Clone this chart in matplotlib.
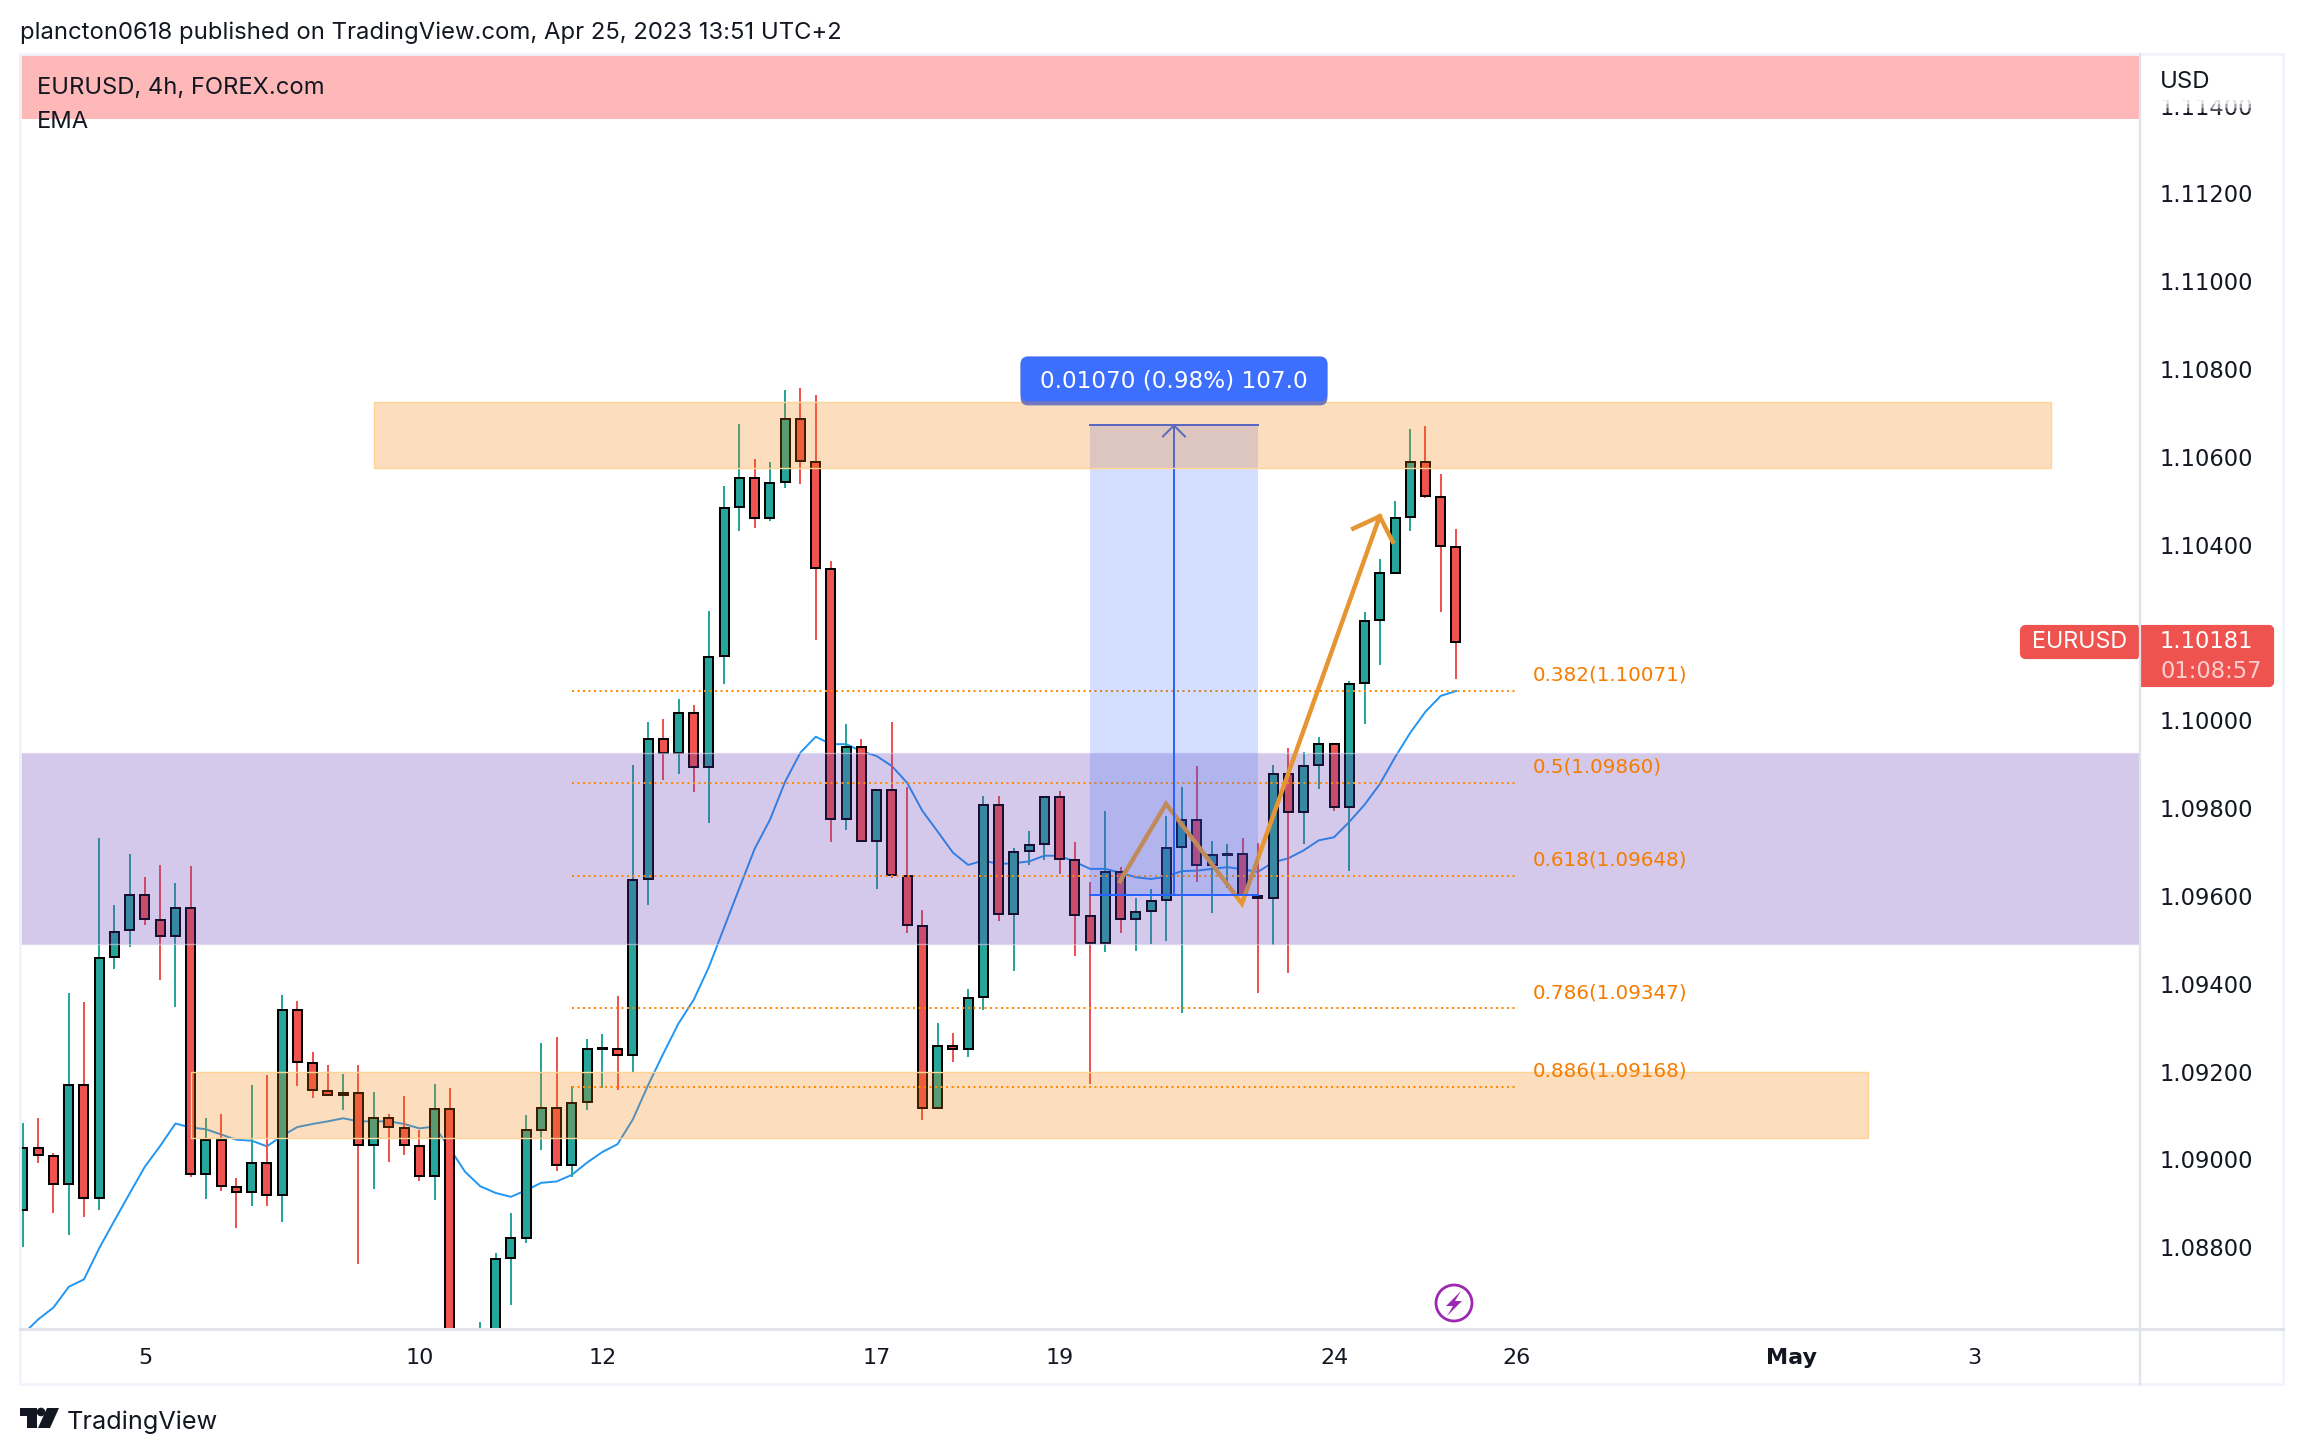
import matplotlib
matplotlib.use('Agg')
import matplotlib.pyplot as plt
from matplotlib.colors import to_rgba
from matplotlib.patches import Rectangle, Circle, Polygon, FancyBboxPatch
from matplotlib.transforms import ScaledTranslation

plt.rcParams['font.family'] = ['Inter', 'DejaVu Sans']
NUM_FONT = 'DejaVu Sans'  # closest match for the wide tabular digits of the chart

# 4h candles, first visible bar is Apr 3
opens = [1.08888, 1.09029, 1.09011, 1.08947, 1.09173, 1.08915, 1.09465, 1.09525, 1.09606, 1.09548,
         1.09511, 1.09576, 1.08970, 1.09047, 1.08941, 1.08929, 1.08995, 1.08922, 1.09344, 1.09223,
         1.09159, 1.09151, 1.09154, 1.09036, 1.09097, 1.09074, 1.09034, 1.08965, 1.09119, 1.08545,
         1.08520, 1.08590, 1.08778, 1.08825, 1.09071, 1.09121, 1.08990, 1.09133, 1.09254, 1.09255,
         1.09241, 1.09641, 1.09961, 1.09928, 1.10020, 1.09898, 1.10149, 1.10489, 1.10556, 1.10464,
         1.10546, 1.10690, 1.10592, 1.10348, 1.09778, 1.09943, 1.09728, 1.09844, 1.09649, 1.09535,
         1.09120, 1.09261, 1.09255, 1.09373, 1.09811, 1.09562, 1.09705, 1.09721, 1.09829, 1.09685,
         1.09557, 1.09496, 1.09658, 1.09551, 1.09569, 1.09594, 1.09715, 1.09776, 1.09674, 1.09697,
         1.09699, 1.09604, 1.09598, 1.09881, 1.09794, 1.09901, 1.09949, 1.09805, 1.10088, 1.10231,
         1.10340, 1.10466, 1.10591, 1.10512, 1.10398]
highs = [1.09086, 1.09097, 1.09017, 1.09382, 1.09361, 1.09735, 1.09582, 1.09699, 1.09646, 1.09674,
         1.09633, 1.09672, 1.09097, 1.09106, 1.08962, 1.09172, 1.09195, 1.09377, 1.09364, 1.09248,
         1.09218, 1.09198, 1.09218, 1.09156, 1.09106, 1.09148, 1.09070, 1.09175, 1.09167, 1.08600,
         1.08633, 1.08789, 1.08881, 1.09104, 1.09268, 1.09282, 1.09170, 1.09277, 1.09289, 1.09375,
         1.09901, 1.09999, 1.10006, 1.10051, 1.10038, 1.10252, 1.10537, 1.10678, 1.10598, 1.10591,
         1.10756, 1.10760, 1.10744, 1.10366, 1.09995, 1.09961, 1.09848, 1.09999, 1.09851, 1.09571,
         1.09314, 1.09291, 1.09391, 1.09831, 1.09831, 1.09712, 1.09751, 1.09829, 1.09842, 1.09726,
         1.09635, 1.09797, 1.09669, 1.09598, 1.09619, 1.09785, 1.09851, 1.09899, 1.09728, 1.09721,
         1.09735, 1.09724, 1.09901, 1.09940, 1.09931, 1.09965, 1.09949, 1.10094, 1.10250, 1.10371,
         1.10503, 1.10667, 1.10674, 1.10565, 1.10440]
lows = [1.08803, 1.08994, 1.08881, 1.08831, 1.08873, 1.08889, 1.09437, 1.09486, 1.09537, 1.09412,
        1.09351, 1.08963, 1.08913, 1.08932, 1.08847, 1.08897, 1.08897, 1.08861, 1.09171, 1.09144,
        1.09151, 1.09116, 1.08765, 1.08936, 1.08998, 1.09013, 1.08955, 1.08911, 1.08520, 1.08490,
        1.08490, 1.08560, 1.08671, 1.08813, 1.09024, 1.08976, 1.08964, 1.09115, 1.09166, 1.09161,
        1.09200, 1.09583, 1.09867, 1.09881, 1.09840, 1.09769, 1.10086, 1.10435, 1.10441, 1.10457,
        1.10532, 1.10541, 1.10186, 1.09726, 1.09753, 1.09728, 1.09619, 1.09645, 1.09519, 1.09094,
        1.09120, 1.09225, 1.09237, 1.09343, 1.09546, 1.09432, 1.09674, 1.09685, 1.09653, 1.09466,
        1.09175, 1.09475, 1.09519, 1.09478, 1.09494, 1.09500, 1.09337, 1.09635, 1.09564, 1.09621,
        1.09586, 1.09382, 1.09491, 1.09428, 1.09721, 1.09847, 1.09797, 1.09660, 1.09994, 1.10129,
        1.10338, 1.10435, 1.10509, 1.10249, 1.10098]
closes = [1.09029, 1.09013, 1.08947, 1.09173, 1.08915, 1.09462, 1.09522, 1.09606, 1.09551, 1.09511,
          1.09576, 1.08970, 1.09047, 1.08943, 1.08929, 1.08995, 1.08922, 1.09344, 1.09225, 1.09162,
          1.09151, 1.09155, 1.09036, 1.09097, 1.09077, 1.09036, 1.08965, 1.09119, 1.08540, 1.08510,
          1.08590, 1.08777, 1.08825, 1.09071, 1.09121, 1.08990, 1.09132, 1.09255, 1.09258, 1.09241,
          1.09640, 1.09961, 1.09928, 1.10020, 1.09898, 1.10148, 1.10488, 1.10556, 1.10465, 1.10544,
          1.10690, 1.10593, 1.10350, 1.09778, 1.09943, 1.09728, 1.09844, 1.09650, 1.09537, 1.09120,
          1.09261, 1.09255, 1.09371, 1.09811, 1.09562, 1.09704, 1.09720, 1.09829, 1.09687, 1.09560,
          1.09496, 1.09658, 1.09551, 1.09567, 1.09592, 1.09712, 1.09776, 1.09674, 1.09696, 1.09700,
          1.09605, 1.09598, 1.09881, 1.09794, 1.09899, 1.09949, 1.09806, 1.10086, 1.10229, 1.10339,
          1.10464, 1.10591, 1.10514, 1.10400, 1.10181]
ema = [1.08605, 1.08639, 1.08666, 1.08713, 1.08730, 1.08801, 1.08864, 1.08926, 1.08987, 1.09034,
       1.09085, 1.09076, 1.09072, 1.09060, 1.09048, 1.09046, 1.09033, 1.09057, 1.09077, 1.09084,
       1.09090, 1.09097, 1.09090, 1.09090, 1.09090, 1.09084, 1.09074, 1.09078, 1.09028, 1.08975,
       1.08942, 1.08927, 1.08918, 1.08933, 1.08950, 1.08953, 1.08968, 1.08996, 1.09020, 1.09038,
       1.09094, 1.09172, 1.09244, 1.09313, 1.09367, 1.09442, 1.09532, 1.09622, 1.09711, 1.09777,
       1.09864, 1.09930, 1.09966, 1.09949, 1.09949, 1.09933, 1.09922, 1.09899, 1.09861, 1.09797,
       1.09750, 1.09702, 1.09674, 1.09684, 1.09676, 1.09678, 1.09682, 1.09695, 1.09695, 1.09681,
       1.09665, 1.09665, 1.09656, 1.09646, 1.09642, 1.09647, 1.09660, 1.09661, 1.09665, 1.09669,
       1.09664, 1.09658, 1.09680, 1.09689, 1.09707, 1.09730, 1.09737, 1.09772, 1.09811, 1.09858,
       1.09919, 1.09975, 1.10023, 1.10059, 1.10070]

# axis labels, 1.102 sits behind the last price label
price_ticks = [1.088, 1.090, 1.092, 1.094, 1.096, 1.098, 1.100, 1.104, 1.106, 1.108, 1.110, 1.112, 1.114]
date_bars = [8, 26, 38, 56, 68, 86, 98, 116, 128]
date_labels = ['5', '10', '12', '17', '19', '24', '26', 'May', '3']

# fib retracement
fib_ratios = ['0.382', '0.5', '0.618', '0.786', '0.886']
fib_prices = [1.10071, 1.09860, 1.09648, 1.09347, 1.09168]
fib_bars = [36, 98]

# drawn zones: (first bar, last bar, bottom, top)
upper_zone = (23, 133, 1.10578, 1.10728)
lower_zone = (11, 121, 1.09052, 1.09202)
purple_zone = (1.09495, 1.09930)
red_zone_bottom = 1.11374

# price range measure
measure_bars = [70, 81]
measure_prices = [1.09605, 1.10675]

# hand drawn path with arrow head
path_bars = [71.96, 74.98, 79.96, 89.0]
path_prices = [1.09637, 1.09813, 1.09586, 1.10468]
head_bars = [87.26, 89.0, 89.85]
head_prices = [1.10440, 1.10468, 1.10410]

GREEN = '#26A69A'
RED = '#EF5350'
TEXT = '#131722'
ORANGE_TEXT = '#F57C00'
W, H = 2304, 1454

fig = plt.figure(figsize=(W / 100, H / 100), dpi=100, facecolor='white')
ax = fig.add_axes([19 / W, (H - 1329) / H, 2121 / W, 1275 / H])
ax.set_xlim(-0.262, 138.87)
ax.set_ylim(1.08617, 1.11521)
for spine in ax.spines.values():
    spine.set_visible(False)

ax.yaxis.tick_right()
ax.set_yticks(price_ticks)
ax.set_yticklabels([f'{p:.5f}' for p in price_ticks], fontsize=16.3, color=TEXT, family=NUM_FONT)
ax.set_xticks(date_bars)
ax.set_xticklabels(date_labels, fontsize=16, color=TEXT, family=NUM_FONT)
ax.get_xticklabels()[date_labels.index('May')].set_fontweight('bold')
ax.tick_params(axis='y', length=0, pad=13.8)
ax.tick_params(axis='x', length=0, pad=14)
# nudge price labels up a little
for label in ax.get_yticklabels():
    label.set_transform(label.get_transform() + ScaledTranslation(0, 1.5 / 100, fig.dpi_scale_trans))

# candles
bars = list(range(len(closes)))
colors = [GREEN if c >= o else RED for o, c in zip(opens, closes)]
ax.plot(bars, ema, color='#2196F3', lw=1.4, zorder=2)
ax.vlines(bars, lows, highs, colors=colors, lw=1.44, zorder=3)
ax.bar(bars, [abs(c - o) for o, c in zip(opens, closes)], bottom=[min(o, c) for o, c in zip(opens, closes)],
       width=9 / 15.245, color=colors, edgecolor='black', linewidth=1.44, zorder=4)


def add_zone(x0, x1, y0, y1, color, alpha, edge, zorder):
    ax.add_patch(Rectangle((x0, y0), x1 - x0, y1 - y0, facecolor=to_rgba(color, alpha),
                           edgecolor=edge, linewidth=1.0, zorder=zorder))


xmin, xmax = ax.get_xlim()
ymin, ymax = ax.get_ylim()
add_zone(xmin - 1, xmax + 1, purple_zone[0], purple_zone[1], '#673AB7', 0.27, to_rgba('#D8D0EC', 0.6), 5)
add_zone(lower_zone[0], lower_zone[1], lower_zone[2], lower_zone[3], '#F57C00', 0.25, '#FFD596', 5)
add_zone(upper_zone[0], upper_zone[1], upper_zone[2], upper_zone[3], '#F57C00', 0.25, '#FFD596', 10)
ax.add_patch(Rectangle((xmin - 1, red_zone_bottom), xmax - xmin + 2, ymax - red_zone_bottom + 1,
                       facecolor='#FFB8B8', edgecolor='none', zorder=5))

# fib levels
for ratio, price in zip(fib_ratios, fib_prices):
    ax.plot(fib_bars, [price, price], color='#FF8A00', lw=1.44, linestyle=(0, (1, 1.75)),
            dash_capstyle='butt', zorder=6)
    ax.annotate(f'{ratio}({price:.5f})', (fib_bars[1], price), xytext=(11.3, 11.5), textcoords='offset points',
                fontsize=14.3, color=ORANGE_TEXT, va='center', ha='left', zorder=11, family=NUM_FONT)

# path sits under the measure box
ax.plot(path_bars, path_prices, color='#E69533', lw=3.2, solid_joinstyle='miter', zorder=7)
ax.plot(head_bars, head_prices, color='#E69533', lw=3.2, solid_joinstyle='miter', zorder=7)

# measure box
mx0, mx1 = measure_bars
my0, my1 = measure_prices
mid = (mx0 + mx1) / 2
ax.add_patch(Rectangle((mx0, my0), mx1 - mx0, my1 - my0, facecolor=to_rgba('#2962FF', 0.2), edgecolor='none', zorder=8))
ax.plot([mx0, mx1], [my0, my0], color='#2962FF', lw=1.44, zorder=9)
ax.plot([mx0, mx1], [my1, my1], color='#2962FF', lw=1.44, zorder=9)
ax.plot([mid, mid], [my0, my1], color='#2962FF', lw=1.44, zorder=9)
ax.plot([mid - 0.72, mid, mid + 0.72], [my1 - 0.00025, my1, my1 - 0.00025], color='#2962FF', lw=1.44, zorder=9)

# everything around the pane, in pixels
chrome = fig.add_axes([0, 0, 1, 1], zorder=20)
chrome.set_xlim(0, W)
chrome.set_ylim(H, 0)
chrome.axis('off')
chrome.add_patch(Rectangle((20, 54), 2263, 1330, facecolor='none', edgecolor='#F0F3FA', linewidth=2))
chrome.plot([2140, 2140], [54, 1384], color='#E0E3EB', lw=1.6)
chrome.plot([20, 2283], [1329, 1329], color='#E0E3EB', lw=2.2)

chrome.text(20, 33, 'plancton0618 published on TradingView.com, Apr 25, 2023 13:51 UTC+2',
            fontsize=17.2, color=TEXT, va='center')
chrome.text(37, 87.5, 'EURUSD, 4h, FOREX.com', fontsize=17.1, color=TEXT, va='center')
chrome.text(37, 121.5, 'EMA', fontsize=17.1, color=TEXT, va='center')

# top of the price scale fades out under the currency label
chrome.add_patch(Rectangle((2143, 56), 138, 44, facecolor='white', edgecolor='none'))
chrome.add_patch(Rectangle((2143, 100), 138, 4, facecolor=to_rgba('white', 0.85), edgecolor='none'))
chrome.add_patch(Rectangle((2143, 104), 138, 4, facecolor=to_rgba('white', 0.6), edgecolor='none'))
chrome.add_patch(Rectangle((2143, 108), 138, 4, facecolor=to_rgba('white', 0.25), edgecolor='none'))
chrome.text(2160, 82, 'USD', fontsize=17.2, color=TEXT, va='center')

# last price labels
chrome.add_patch(FancyBboxPatch((2022, 627), 116, 30, boxstyle='round,pad=0,rounding_size=4', facecolor=RED,
                                edgecolor=RED, linewidth=3))
chrome.add_patch(FancyBboxPatch((2142, 627), 130, 58, boxstyle='round,pad=0,rounding_size=3', facecolor=RED,
                                edgecolor=RED, linewidth=3))
chrome.add_patch(Rectangle((2133, 625), 5, 34, facecolor=RED, edgecolor='none'))
chrome.add_patch(Rectangle((2140, 625), 8, 62, facecolor=RED, edgecolor='none'))
chrome.text(2080, 642, 'EURUSD', fontsize=16.8, color='white', va='center', ha='center')
chrome.text(2160, 642, '1.10181', fontsize=16.3, color='white', va='center', family=NUM_FONT)
chrome.text(2160, 671, '01:08:57', fontsize=16.3, color=to_rgba('white', 0.72), va='center', family=NUM_FONT)

# measure label
chrome.add_patch(FancyBboxPatch((1022, 358), 304, 46, boxstyle='round,pad=0,rounding_size=6', facecolor='#7377BE',
                                edgecolor='#7377BE', linewidth=2))
chrome.add_patch(FancyBboxPatch((1022, 358), 304, 42, boxstyle='round,pad=0,rounding_size=6', facecolor='#3D6FFF',
                                edgecolor='#3D6FFF', linewidth=2))
chrome.text(1174, 381, '0.01070 (0.98%) 107.0', fontsize=16.7, color='white', va='center', ha='center', family=NUM_FONT)

# lightning marker
chrome.add_patch(Circle((1454, 1303), 18, facecolor='white', edgecolor='#9C27B0', linewidth=2))
chrome.add_patch(Polygon([(1461, 1291), (1446, 1306), (1453, 1306), (1447, 1316), (1462, 1301), (1455, 1301)],
                         closed=True, facecolor='#9C27B0', edgecolor='none'))

# logo
chrome.add_patch(Polygon([(20, 1408), (37, 1408), (37, 1428), (27, 1428), (27, 1416), (20, 1416)], closed=True,
                         facecolor=TEXT, edgecolor='none'))
chrome.add_patch(Circle((41, 1412), 4.3, facecolor=TEXT, edgecolor='none'))
chrome.add_patch(Polygon([(47, 1408), (59, 1408), (50, 1428), (38, 1428)], closed=True, facecolor=TEXT, edgecolor='none'))
chrome.text(67, 1422, 'TradingView', fontsize=18.2, color=TEXT, va='center')

fig.savefig('out.png', dpi=100, facecolor='white')
